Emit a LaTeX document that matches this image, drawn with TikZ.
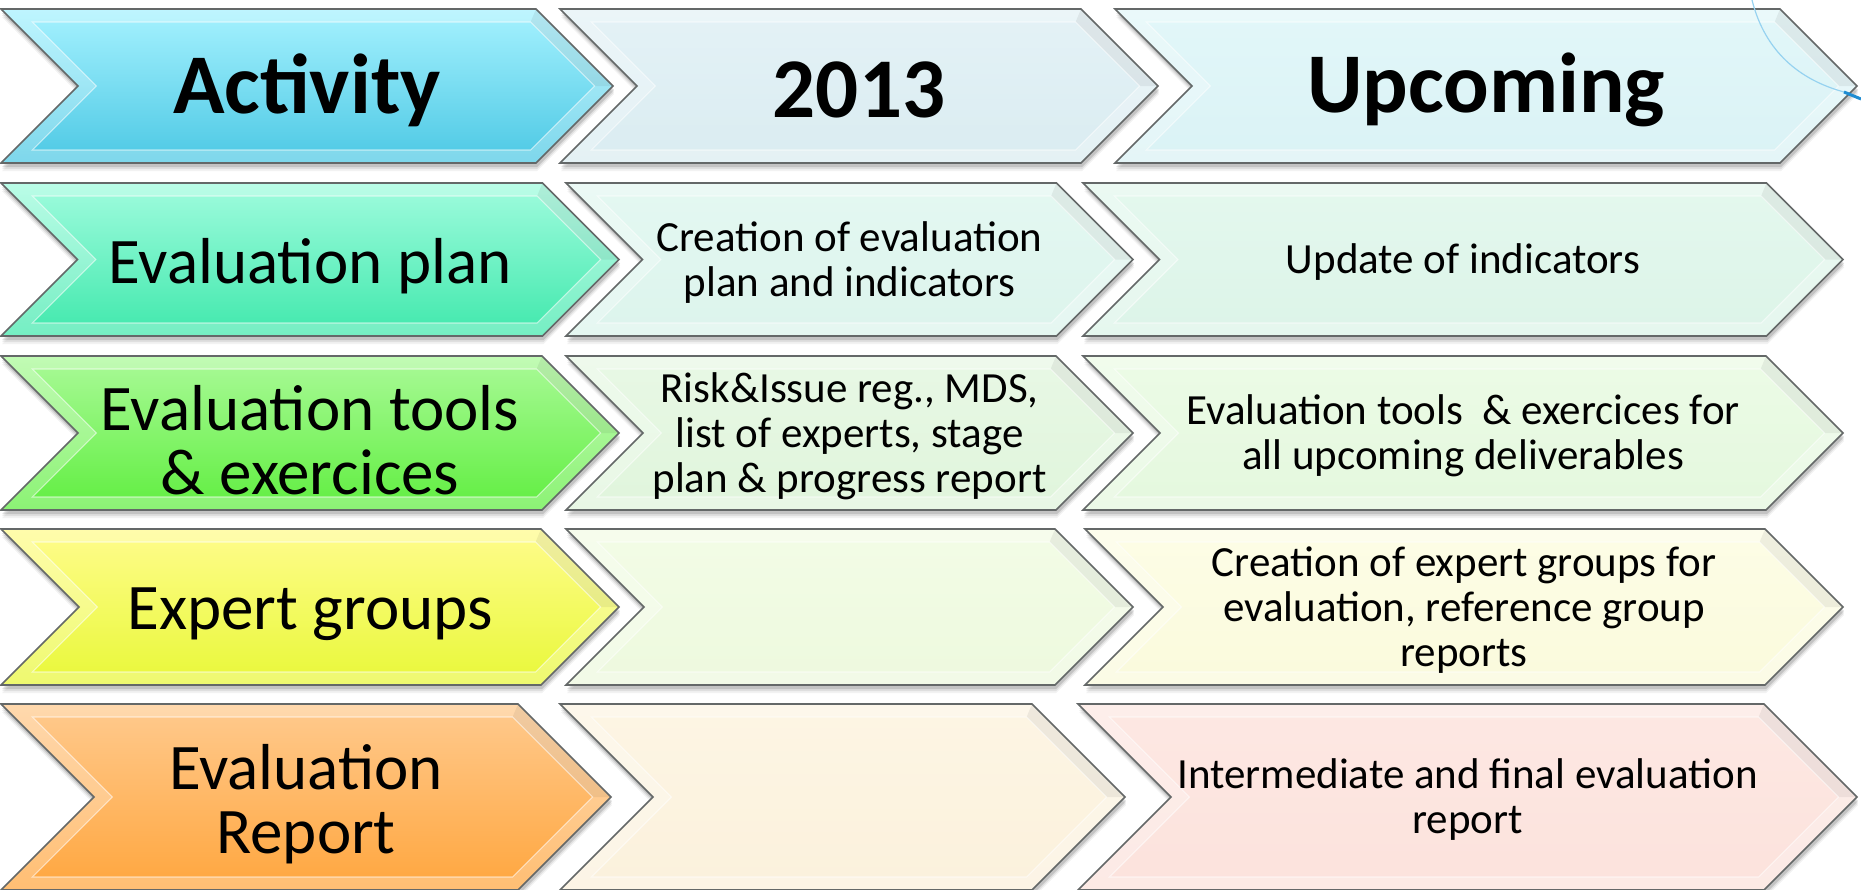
\documentclass[tikz,border=0pt]{standalone}
\usepackage{fontspec}
\setmainfont{Carlito}
\definecolor{bordercol}{RGB}{100,104,104}
\definecolor{arcblue}{RGB}{150,210,240}
\definecolor{arcdark}{RGB}{30,140,210}
% row 1
\definecolor{hAt}{RGB}{166,242,255}\definecolor{hAb}{RGB}{76,200,228}
\definecolor{hBt}{RGB}{228,242,246}\definecolor{hBb}{RGB}{218,236,241}
\definecolor{hCt}{RGB}{226,247,249}\definecolor{hCb}{RGB}{218,242,245}
% row 2
\definecolor{pAt}{RGB}{160,252,222}\definecolor{pAb}{RGB}{64,232,172}
\definecolor{pBt}{RGB}{228,248,242}\definecolor{pBb}{RGB}{220,244,236}
\definecolor{pCt}{RGB}{228,248,238}\definecolor{pCb}{RGB}{220,244,232}
% row 3
\definecolor{tAt}{RGB}{170,250,152}\definecolor{tAb}{RGB}{96,238,64}
\definecolor{tBt}{RGB}{232,248,229}\definecolor{tBb}{RGB}{224,245,220}
\definecolor{tCt}{RGB}{236,251,230}\definecolor{tCb}{RGB}{228,248,222}
% row 4
\definecolor{eAt}{RGB}{255,252,140}\definecolor{eAb}{RGB}{232,248,56}
\definecolor{eBt}{RGB}{243,252,230}\definecolor{eBb}{RGB}{237,249,222}
\definecolor{eCt}{RGB}{253,253,230}\definecolor{eCb}{RGB}{250,250,220}
% row 5
\definecolor{rAt}{RGB}{255,202,142}\definecolor{rAb}{RGB}{255,166,62}
\definecolor{rBt}{RGB}{253,245,228}\definecolor{rBb}{RGB}{251,241,220}
\definecolor{rCt}{RGB}{253,232,227}\definecolor{rCb}{RGB}{252,226,220}
\newcommand\fhead{\fontsize{85}{90}\selectfont\bfseries}
\newcommand\fact{\fontsize{65}{64}\selectfont}
\newcommand\fbody{\fontsize{43}{45}\selectfont}
\tikzset{
  tHead/.style={font=\fhead,yshift=-4pt},
  tAct/.style={font=\fact,yshift=-7pt},
  tBody/.style={font=\fbody,yshift=-3pt},
}
\newcommand\chev[9]{%
  \pgfmathsetmacro\cdd{(#5-#4)/2}%
  \pgfmathsetmacro\cym{(#5+#4)/2}%
  \pgfmathsetmacro\cxn{#2+\cdd}%
  \pgfmathsetmacro\cxs{#3-\cdd}%
  \pgfmathsetmacro\cxc{(#2+#3)/2}%
  \pgfmathsetmacro\bA{13}%
  \pgfmathsetmacro\bB{13*1.4142}%
  \pgfmathsetmacro\iyt{#4+\bA}%
  \pgfmathsetmacro\iyb{#5-\bA}%
  \pgfmathsetmacro\ixl{#2+\bB+\bA}%
  \pgfmathsetmacro\ixn{\cxn+\bB}%
  \pgfmathsetmacro\ixs{\cxs-\bB+\bA}%
  \pgfmathsetmacro\ixp{#3-\bB}%
  \foreach \sh/\op in {8/0.05,6/0.08,4/0.12}{%
    \fill[black,opacity=\op] (#2+1,#4+\sh) -- (\cxs+1,#4+\sh) -- (#3+1,\cym+\sh) -- (\cxs+1,#5+\sh) -- (#2+1,#5+\sh) -- (\cxn+1,\cym+\sh) -- cycle;}
  \fill[top color=#6,bottom color=#7] (#2,#4) -- (\cxs,#4) -- (#3,\cym) -- (\cxs,#5) -- (#2,#5) -- (\cxn,\cym) -- cycle;
  \fill[white,opacity=0.28,even odd rule] (#2,#4) -- (\cxs,#4) -- (#3,\cym) -- (\cxs,#5) -- (#2,#5) -- (\cxn,\cym) -- cycle
     (\ixl,\iyt) -- (\ixs,\iyt) -- (\ixp,\cym) -- (\ixs,\iyb) -- (\ixl,\iyb) -- (\ixn,\cym) -- cycle;
  \fill[black,opacity=0.06] (\cxs,#4) -- (#3,\cym) -- (\ixp,\cym) -- (\ixs,\iyt) -- cycle;
  \draw[white,opacity=0.55,line width=1.2] (\ixl,\iyt) -- (\ixs,\iyt) -- (\ixp,\cym) -- (\ixs,\iyb) -- (\ixl,\iyb) -- (\ixn,\cym) -- cycle;
  \draw[bordercol,line width=1.6,line join=miter] (#2,#4) -- (\cxs,#4) -- (#3,\cym) -- (\cxs,#5) -- (#2,#5) -- (\cxn,\cym) -- cycle;
  \node[#8,align=center,inner sep=0pt] (#1) at (\cxc,\cym) {#9};
}
\begin{document}
\begin{tikzpicture}[x=1pt,y=-1pt]
\useasboundingbox[fill=white] (0,0) rectangle (1861,889);
% row 1
\chev{hA}{1}{613}{9}{163}{hAt}{hAb}{tHead}{Activity}
\chev{hB}{560}{1158}{9}{163}{hBt}{hBb}{tHead}{2013}
\chev{hC}{1115}{1857}{9}{163}{hCt}{hCb}{tHead}{Upcoming}
% row 2
\chev{pA}{1}{619}{183}{336}{pAt}{pAb}{tAct}{Evaluation plan}
\chev{pB}{566}{1133}{183}{336}{pBt}{pBb}{tBody}{Creation of evaluation\\plan and indicators}
\chev{pC}{1083}{1843}{183}{336}{pCt}{pCb}{tBody}{Update of indicators}
% row 3
\chev{tA}{1}{619}{356}{510}{tAt}{tAb}{tAct}{Evaluation tools\\\& exercices}
\chev{tB}{566}{1133}{356}{510}{tBt}{tBb}{tBody}{Risk\&Issue reg., MDS,\\list of experts, stage\\plan \& progress report}
\chev{tC}{1083}{1843}{356}{510}{tCt}{tCb}{tBody}{Evaluation tools\ \ \& exercices for\\all upcoming deliverables}
% row 4
\chev{eA}{1}{619}{529}{685}{eAt}{eAb}{tAct}{Expert groups}
\chev{eB}{566}{1133}{529}{685}{eBt}{eBb}{tBody}{}
\chev{eC}{1085}{1843}{529}{685}{eCt}{eCb}{tBody}{Creation of expert groups for\\evaluation, reference group\\reports}
% row 5
\chev{rA}{1}{611}{704}{890}{rAt}{rAb}{tAct}{Evaluation\\Report}
\chev{rB}{560}{1125}{704}{890}{rBt}{rBb}{tBody}{}
\chev{rC}{1078}{1857}{704}{890}{rCt}{rCb}{tBody}{Intermediate and final evaluation\\report}
% stray arc at top right
\coordinate (arcS) at (1752,0);
\coordinate (arcM) at (1844,92);
\coordinate (arcE) at (1861,99);
\draw[arcblue,line width=1.2] (arcS) .. controls (1765,52) and (1800,80) .. (arcM);
\draw[arcdark,line width=3] (arcM) -- (arcE);
\end{tikzpicture}
\end{document}
